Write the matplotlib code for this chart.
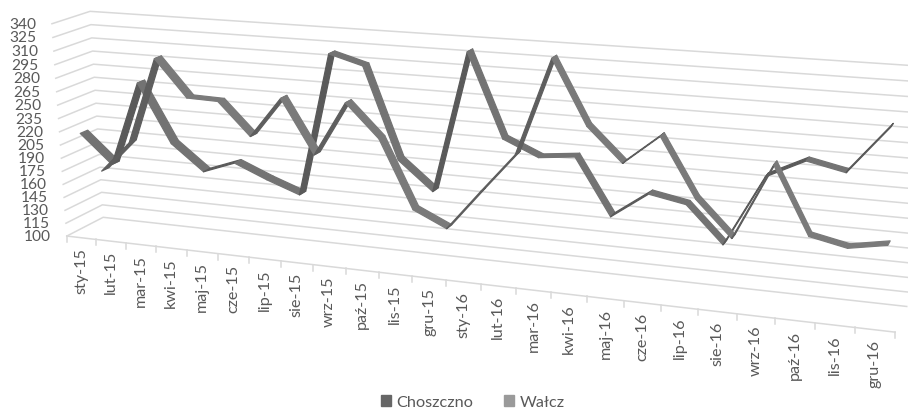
import numpy as np
import matplotlib
matplotlib.use('Agg')
import matplotlib.pyplot as plt
from matplotlib.patches import Patch, Polygon

plt.rcParams['font.family'] = ['Lato', 'DejaVu Sans']

months = ['sty-15', 'lut-15', 'mar-15', 'kwi-15', 'maj-15', 'cze-15', 'lip-15', 'sie-15',
          'wrz-15', 'paź-15', 'lis-15', 'gru-15', 'sty-16', 'lut-16', 'mar-16', 'kwi-16',
          'maj-16', 'cze-16', 'lip-16', 'sie-16', 'wrz-16', 'paź-16', 'lis-16', 'gru-16']
choszczno = [217, 185, 279, 215, 187, 200, 185, 172, 326, 316, 220, 190,
             338, 252, 236, 240, 182, 209, 202, 165, 237, 256, 248, 295]
walcz = [164, 200, 298, 257, 256, 220, 265, 206, 266, 230, 156, 139,
         183, 226, 329, 262, 227, 258, 197, 160, 239, 170, 162, 169]
yTicks = list(range(100, 341, 15))

textColor = '#595959'
gridColor = '#d9d9d9'

# where the corners of the 3D box land on the picture: (category, value, depth) -> (x, y)
anchors = [
    (0, 100, 0, 67, 237), (8, 100, 0, 313, 266), (16, 100, 0, 587, 298), (24, 100, 0, 895, 333),
    (0, 340, 0, 52, 24), (0, 100, 1, 103, 218), (0, 340, 1, 90, 13),
    (24, 100, 1, 907, 307), (24, 340, 1, 925, 67.5),
]
rows = []
for u, v, w, x, y in anchors:
    p = [u / 24, (v - 100) / 240, w, 1]
    rows.append(p + [0, 0, 0, 0] + [-x * c for c in p])
    rows.append([0, 0, 0, 0] + p + [-y * c for c in p])
camera = np.linalg.svd(np.array(rows))[2][-1].reshape(3, 4)


def project(u, v, w):
    h = camera @ np.array([u / 24, (v - 100) / 240, w, 1])
    return h[0] / h[2], h[1] / h[2]


def drawRibbon(ax, values, depth, rising, falling):
    half = 0.1
    for k in range(len(values) - 1):
        corners = [project(k + 0.5, values[k], depth - half),
                   project(k + 1.5, values[k + 1], depth - half),
                   project(k + 1.5, values[k + 1], depth + half),
                   project(k + 0.5, values[k], depth + half)]
        color = rising if values[k + 1] > values[k] + 8 else falling
        ax.add_patch(Polygon(corners, closed=True, facecolor=color, edgecolor=color,
                             linewidth=0.9, joinstyle='round', zorder=3 + depth))


fig = plt.figure(figsize=(9.08, 4.10), dpi=100, facecolor='w')
ax = fig.add_axes([0, 0, 1, 1])
ax.set_xlim(0, 908)
ax.set_ylim(410, 0)
ax.axis('off')

# walls
for v in yTicks:
    xs, ys = zip(project(0, v, 0), project(0, v, 1), project(24, v, 1))
    ax.plot(xs, ys, color=gridColor, linewidth=1.1, zorder=1)
    x0, y0 = project(0, v, 0)
    ax.text(x0 - 16, y0, str(v), ha='right', va='center', fontsize=11.2, color=textColor)

# front edge of the floor
xs, ys = zip(project(0, 100, 0), project(24, 100, 0))
ax.plot(xs, ys, color=gridColor, linewidth=1.1, zorder=1)
for k in range(len(months) + 1):
    x0, y0 = project(k, 100, 0)
    ax.plot([x0, x0], [y0, y0 + 6], color=gridColor, linewidth=1.1, zorder=1)
for k, label in enumerate(months):
    x0, y0 = project(k + 0.5, 100, 0)
    ax.text(x0, y0 + 9, label, rotation=90, ha='center', va='top', fontsize=11.6, color=textColor)

drawRibbon(ax, walcz, 0.75, '#5e5e5e', '#7a7a7a')
drawRibbon(ax, choszczno, 0.25, '#5a5a5a', '#737373')

handles = [Patch(color='#666666', label='Choszczno'), Patch(color='#9a9a9a', label='Wałcz')]
ax.legend(handles=handles, loc='center', bbox_to_anchor=(0.5205, 1 - 403 / 410), ncol=2, frameon=False,
          fontsize=11.7, labelcolor=textColor, handlelength=0.62, handleheight=0.62,
          handletextpad=0.3, columnspacing=1.95, borderpad=0)

plt.savefig('out.png', dpi=100)
